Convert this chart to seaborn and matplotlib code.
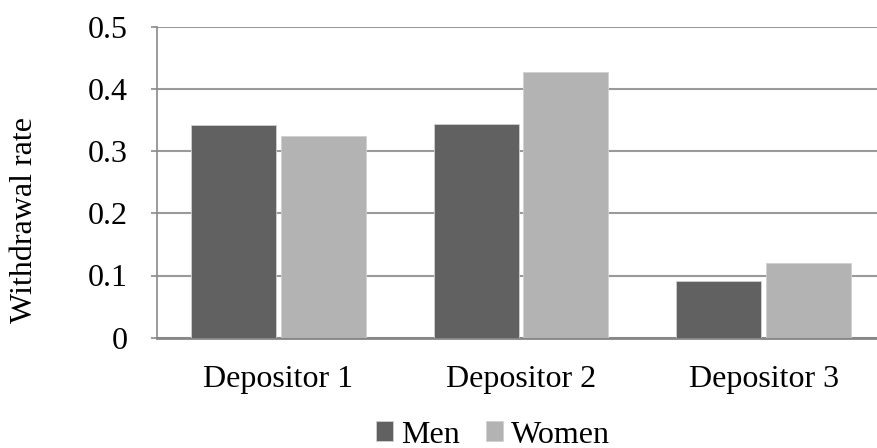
import pandas as pd
import matplotlib
matplotlib.use('Agg')
import matplotlib.pyplot as plt
import seaborn as sns

# Data
depositors = ['Depositor 1', 'Depositor 2', 'Depositor 3']
men = [0.342, 0.344, 0.091]
women = [0.325, 0.427, 0.120]

df = pd.DataFrame({
    'Depositor': depositors * 2,
    'Sex': ['Men'] * 3 + ['Women'] * 3,
    'Rate': men + women,
})

sns.set_theme(style='white')
plt.rcParams['font.family'] = ['Liberation Serif', 'DejaVu Serif']
plt.rcParams['text.color'] = 'black'
plt.rcParams['xtick.labelcolor'] = 'black'
plt.rcParams['ytick.labelcolor'] = 'black'
plt.rcParams['axes.labelcolor'] = 'black'
fs = 23

fig = plt.figure(figsize=(8.77, 4.48), dpi=100)
# axes runs past the right edge, like the original
ax = fig.add_axes([157 / 877, 1 - 337.7 / 448, 728 / 877, 311 / 448])

sns.barplot(data=df, x='Depositor', y='Rate', hue='Sex', ax=ax,
            palette=['#616161', '#b3b3b3'], width=0.738, gap=0.05,
            edgecolor='#d0d0d0', linewidth=0.6, saturation=1, zorder=3)

ax.set_ylim(0, 0.5)
ax.set_yticks([0, 0.1, 0.2, 0.3, 0.4, 0.5])
ax.set_yticklabels(['0', '0.1', '0.2', '0.3', '0.4', '0.5'])
ax.yaxis.grid(True, color='#9a9a9a', linewidth=1.5, zorder=0)
ax.set_axisbelow(True)

for side in ['top', 'right']:
    ax.spines[side].set_visible(False)
ax.spines['left'].set_color('#8a8a8a')
ax.spines['left'].set_linewidth(1.2)
ax.spines['bottom'].set_color('#868686')
ax.spines['bottom'].set_linewidth(2)

ax.tick_params(axis='y', which='major', left=True, length=4, width=1.2,
               color='#8a8a8a', labelsize=fs, pad=17)
ax.tick_params(axis='x', bottom=False, labelsize=fs, pad=14)
ax.set_xlabel('')
ax.set_ylabel('')
fig.text(25 / 877, 1 - 220 / 448, 'Withdrawal rate', fontsize=fs,
         rotation=90, ha='center', va='center')

ax.legend(loc='center', ncol=2, frameon=False, fontsize=fs,
          handlelength=0.55, handleheight=0.6, handletextpad=0.25,
          columnspacing=0.8,
          bbox_to_anchor=(493 / 877, 1 - 435 / 448),
          bbox_transform=fig.transFigure)

fig.savefig('out.png', dpi=100)
plt.close()
